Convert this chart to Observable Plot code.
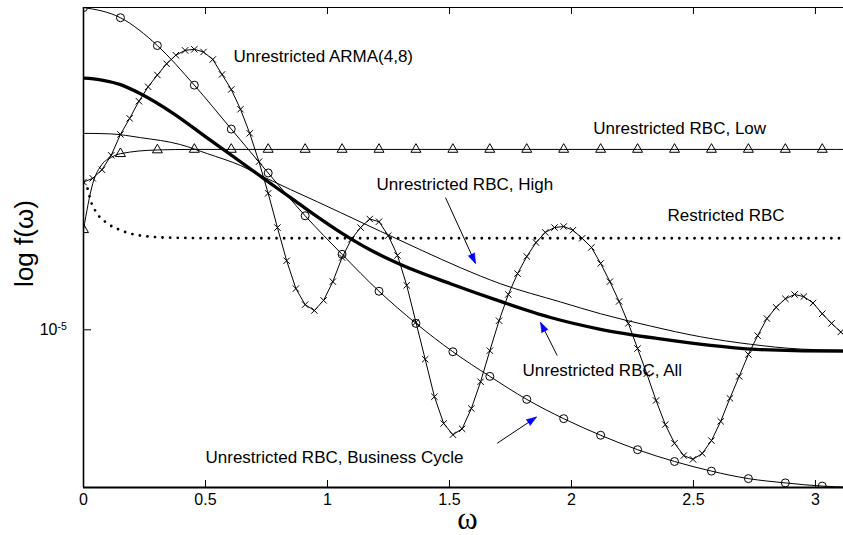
<!DOCTYPE html>
<html>
<head>
<meta charset="utf-8">
<script src="https://cdn.jsdelivr.net/npm/d3@7"></script>
<script src="https://cdn.jsdelivr.net/npm/@observablehq/plot@0.6"></script>
<style>
  html, body { margin: 0; padding: 0; background: #fff; }
</style>
</head>
<body>
<div id="chart"></div>
<script>
// ---- data: y values are log10 f(omega) ----
const xTicks = [0, 0.5, 1, 1.5, 2, 2.5, 3];
const yTicks = [-5];

// Business cycle (circles)
const bizOmega = [0, 0.1514, 0.3028, 0.4542, 0.6056, 0.7570, 0.9084, 1.0598, 1.2112, 1.3626, 1.5140,
  1.6654, 1.8168, 1.9682, 2.1196, 2.2710, 2.4224, 2.5738, 2.7252, 2.8766, 3.0279, 3.1416];
const bizVal = [-4.398, -4.417, -4.469, -4.543, -4.625, -4.707, -4.787, -4.859, -4.928, -4.988, -5.041,
  -5.087, -5.130, -5.166, -5.197, -5.224, -5.246, -5.264, -5.278, -5.286, -5.292, -5.294];

// Low (triangles)
const lowOmega = [0, 0.0378, 0.0757, 0.1135, 0.1514, 0.3028, 0.4542, 0.6056, 0.7570, 0.9084, 1.0598,
  1.2112, 1.3626, 1.5140, 1.6654, 1.8168, 1.9682, 2.1196, 2.2710, 2.4224, 2.5738, 2.7252, 2.8766, 3.0279, 3.1416];
const lowVal = [-4.813, -4.727, -4.691, -4.678, -4.671, -4.664, -4.663, -4.663, -4.663, -4.663, -4.663,
  -4.663, -4.663, -4.663, -4.663, -4.663, -4.663, -4.663, -4.663, -4.663, -4.663, -4.663, -4.663, -4.663, -4.663];

// Restricted RBC (dotted)
const restrOmega = [0, 0.015, 0.0287, 0.0562, 0.0971, 0.1517, 0.2336, 0.3566, 0.6, 3.1416];
const restrVal = [-4.725, -4.734, -4.758, -4.783, -4.801, -4.814, -4.824, -4.828, -4.829, -4.829];

// All (thick)
const allOmega = [0, 0.0697, 0.1517, 0.2336, 0.3689, 0.5082, 0.6435, 0.7460, 0.8484, 0.9427, 1.0534,
  1.1763, 1.2993, 1.5042, 1.7092, 1.9141, 2.1190, 2.3649, 2.5699, 2.7748, 3.1150, 3.1416];
const allVal = [-4.530, -4.533, -4.542, -4.559, -4.596, -4.642, -4.686, -4.720, -4.753, -4.784, -4.818,
  -4.851, -4.878, -4.914, -4.947, -4.977, -4.999, -5.017, -5.029, -5.037, -5.040, -5.040];

// High (thin)
const highOmega = [0, 0.1107, 0.2336, 0.3976, 0.5082, 0.6435, 0.7460, 0.8484, 0.9591, 1.0534, 1.2173,
  1.3882, 1.5452, 1.7092, 1.9551, 2.1190, 2.3240, 2.5289, 2.7338, 2.9388, 3.1150, 3.1416];
const highVal = [-4.633, -4.634, -4.641, -4.654, -4.671, -4.693, -4.716, -4.738, -4.761, -4.781, -4.816,
  -4.852, -4.884, -4.914, -4.948, -4.970, -4.993, -5.013, -5.027, -5.036, -5.038, -5.038];

// ARMA(4,8) (x markers), on grid omega_j = j*pi/83
const armaVal = [
  -4.724, -4.717, -4.701, -4.674, -4.635, -4.605, -4.573, -4.546, -4.524, -4.503,
  -4.487, -4.478, -4.476, -4.481, -4.495, -4.523, -4.551, -4.588, -4.633, -4.686,
  -4.745, -4.809, -4.871, -4.923, -4.953, -4.964, -4.945, -4.910, -4.865, -4.831,
  -4.809, -4.793, -4.798, -4.824, -4.861, -4.917, -4.986, -5.055, -5.125, -5.175,
  -5.196, -5.185, -5.147, -5.097, -5.039, -4.983, -4.934, -4.895, -4.863, -4.837,
  -4.818, -4.809, -4.807, -4.814, -4.829, -4.846, -4.876, -4.910, -4.947, -4.988,
  -5.035, -5.082, -5.132, -5.177, -5.212, -5.235, -5.242, -5.231, -5.207, -5.171,
  -5.128, -5.087, -5.046, -5.011, -4.979, -4.958, -4.942, -4.934, -4.938, -4.950,
  -4.970, -4.988, -5.004, -5.020];
const armaOmega = armaVal.map((_, j) => j * Math.PI / 83);

// annotations
const labelText = ["Unrestricted ARMA(4,8)", "Unrestricted RBC, Low", "Unrestricted RBC, High",
  "Restricted RBC", "Unrestricted RBC, All", "Unrestricted RBC, Business Cycle"];
const labelOmega = [0.6148, 2.089, 1.2009, 2.3936, 1.7993, 0.5000];
const labelVal = [-4.499, -4.634, -4.738, -4.797, -5.087, -5.249];

const arrowFromOmega = [1.4837, 1.9415, 1.6956];
const arrowFromVal = [-4.753, -5.048, -5.212];
const arrowToOmega = [1.6067, 1.8731, 1.8567];
const arrowToVal = [-4.876, -4.986, -5.163];
const arrowAngle = [155.6, -26.6, 56.5];

// ---- build ----
const rows = (ws, vs) => ws.map((w, i) => ({w, v: vs[i]}));
const biz = rows(bizOmega, bizVal);
const low = rows(lowOmega, lowVal);
const restr = rows(restrOmega, restrVal);
const all = rows(allOmega, allVal);
const high = rows(highOmega, highVal);
const arma = rows(armaOmega, armaVal);
const markerStep = 0.1514;
const onGrid = d => d.w <= 3.05 && Math.abs(d.w / markerStep - Math.round(d.w / markerStep)) < 0.02;
const labels = labelText.map((t, i) => ({t, w: labelOmega[i], v: labelVal[i]}));
const arrows = arrowAngle.map((a, i) => ({x1: arrowFromOmega[i], y1: arrowFromVal[i], x2: arrowToOmega[i], y2: arrowToVal[i], a}));

const X0 = 0, X1 = 3.115, Y0 = -5.2946, Y1 = -4.3979;
const FONT = "'Liberation Sans', Arial, Helvetica, sans-serif";

const chart = Plot.plot({
  width: 843,
  height: 535,
  marginLeft: 83,
  marginRight: 0,
  marginTop: 7,
  marginBottom: 48,
  style: {fontFamily: FONT, fontSize: "16px", color: "black", background: "white"},
  x: {domain: [X0, X1]},
  y: {domain: [Y0, Y1]},
  marks: [
    Plot.line(restr, {x: "w", y: "v", curve: "monotone-x", stroke: "black", strokeWidth: 2.8,
      strokeDasharray: "0 7.6", strokeLinecap: "round", clip: true}),
    Plot.line(low, {x: "w", y: "v", curve: "monotone-x", stroke: "black", strokeWidth: 1, clip: true}),
    Plot.dot(low.filter(onGrid), {x: "w", y: "v", symbol: "triangle", r: 3.7, stroke: "black", fill: "none", strokeWidth: 1, clip: true}),
    Plot.line(biz, {x: "w", y: "v", curve: "monotone-x", stroke: "black", strokeWidth: 1, clip: true}),
    Plot.dot(biz.filter(onGrid), {x: "w", y: "v", symbol: "circle", r: 4, stroke: "black", fill: "none", strokeWidth: 1, clip: true}),
    Plot.line(high, {x: "w", y: "v", curve: "monotone-x", stroke: "black", strokeWidth: 1, clip: true}),
    Plot.line(all, {x: "w", y: "v", curve: "monotone-x", stroke: "black", strokeWidth: 3.3, clip: true}),
    Plot.line(arma, {x: "w", y: "v", stroke: "black", strokeWidth: 1, clip: true}),
    Plot.dot(arma, {x: "w", y: "v", symbol: "times", r: 3, stroke: "black", strokeWidth: 1, clip: true}),

    // frame lines
    Plot.ruleX([X0], {stroke: "black", strokeWidth: 1.6}),
    Plot.ruleY([Y1], {stroke: "black", strokeWidth: 1.2}),
    Plot.ruleY([Y0], {stroke: "black", strokeWidth: 2}),
    // inward ticks
    Plot.tickX(xTicks, {x: d => d, insetTop: 473, stroke: "black", strokeWidth: 1}),
    Plot.tickX(xTicks, {x: d => d, insetBottom: 473, stroke: "black", strokeWidth: 1}),
    Plot.tickY(yTicks, {y: d => d, insetRight: 752, stroke: "black", strokeWidth: 1}),
    // tick labels
    Plot.axisX({ticks: xTicks, tickFormat: d => String(d), tickSize: 0, tickPadding: 6, fontSize: 16, label: null}),
    Plot.axisY({ticks: yTicks, tickFormat: () => "10", tickSize: 0, tickPadding: 26, fontSize: 16, label: null}),
    Plot.text(yTicks, {y: d => d, frameAnchor: "left", text: () => "-5", textAnchor: "start", lineAnchor: "bottom",
      dx: -26, dy: 0.5, fontSize: 10.5}),
    // axis titles
    Plot.text(["log f(\u03C9)"], {text: d => d, frameAnchor: "left", rotate: -90, dx: -51, dy: -4,
      lineAnchor: "bottom", textAnchor: "middle", fontSize: 26}),
    Plot.text(["\u03C9"], {text: d => d, frameAnchor: "bottom", dx: 4, dy: 41, lineAnchor: "bottom",
      textAnchor: "middle", fontSize: 31, fontFamily: "'Liberation Serif', 'Times New Roman', serif"}),
    // annotations
    Plot.text(labels, {x: "w", y: "v", text: "t", textAnchor: "start", lineAnchor: "bottom", fontSize: 17, fill: "black"}),
    Plot.link(arrows, {x1: "x1", y1: "y1", x2: "x2", y2: "y2", stroke: "black", strokeWidth: 1}),
    Plot.vector(arrows, {x: "x2", y: "y2", rotate: "a", length: 10, anchor: "end", shape: "spike", r: 3.5,
      fill: "#0000ff", stroke: "#0000ff", strokeWidth: 0.6})
  ]
});
document.getElementById("chart").appendChild(chart);
</script>
</body>
</html>
